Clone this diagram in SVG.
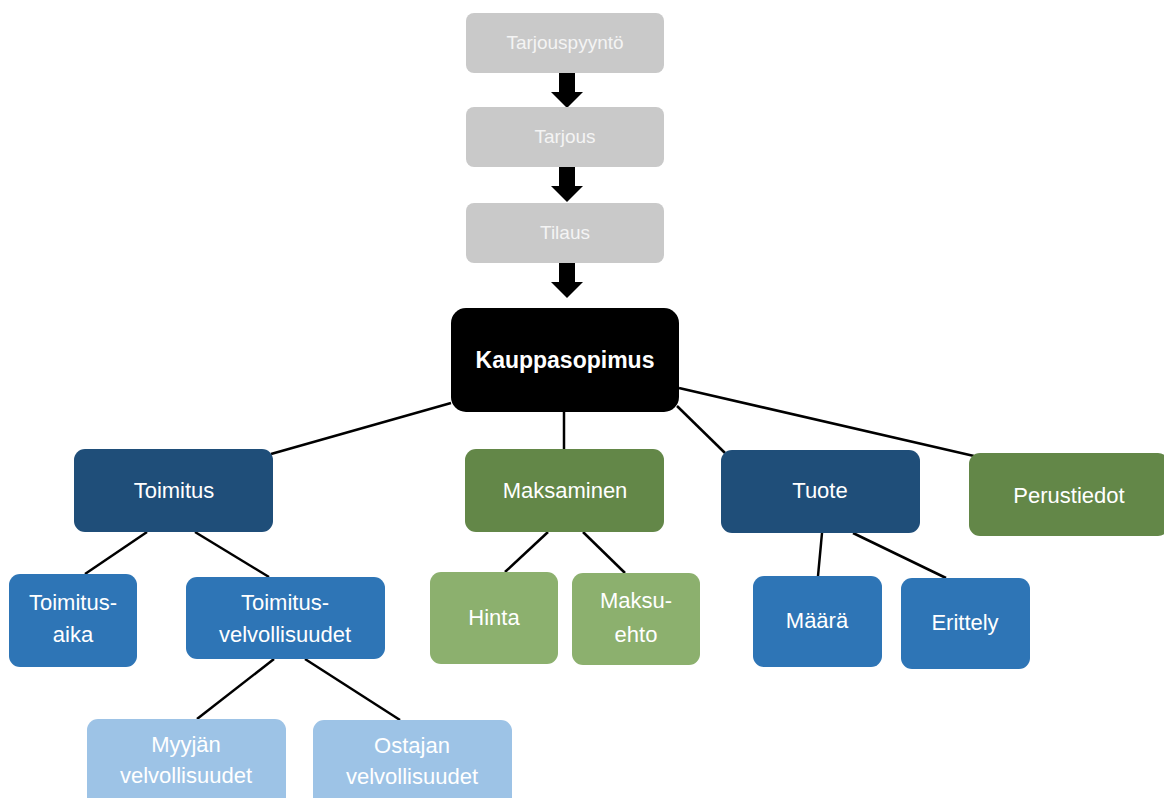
<svg xmlns="http://www.w3.org/2000/svg" width="1164" height="798" viewBox="0 0 1164 798">
<defs>
<style>
text{font-family:"Liberation Sans",Arial,sans-serif;fill:#fff;text-anchor:middle}
.g rect{fill:#C9C9C9}
.g text{font-size:19px;fill:#F4F4F4}
.n text{font-size:22px}
.dk rect{fill:#1F4E79}
.md rect{fill:#2E75B6}
.lt rect{fill:#9DC3E6}
.gd rect{fill:#638748}
.gl rect{fill:#8CB06E}
.conn line{stroke:#000;stroke-width:2.5}
.arr{fill:#000}
</style>
</defs>
<rect width="1164" height="798" fill="#fff"/>
<g class="conn">
<line x1="451" y1="403" x2="271" y2="454"/>
<line x1="564" y1="412" x2="564" y2="449"/>
<line x1="677" y1="406" x2="725" y2="453"/>
<line x1="679" y1="388" x2="974" y2="456"/>
<line x1="147" y1="532" x2="85" y2="574"/>
<line x1="195" y1="532" x2="269" y2="577"/>
<line x1="274" y1="659" x2="197" y2="719"/>
<line x1="305" y1="659" x2="400" y2="720"/>
<line x1="548" y1="532" x2="505" y2="572"/>
<line x1="583" y1="532" x2="625" y2="573"/>
<line x1="822" y1="533" x2="818" y2="576"/>
<line x1="853" y1="533" x2="946" y2="578"/>
<polygon class="arr" points="559,73 575,73 575,92 583,92 567,108 551,92 559,92"/>
<polygon class="arr" points="559,167 575,167 575,186 583,186 567,202 551,186 559,186"/>
<polygon class="arr" points="559,263 575,263 575,282 583,282 567,298 551,282 559,282"/>
</g>
<g id="tarjouspyynto" class="g"><rect x="466" y="13" width="198" height="60" rx="8"/><text x="565" y="49">Tarjouspyyntö</text></g>
<g id="tarjous" class="g"><rect x="466" y="107" width="198" height="60" rx="8"/><text x="565" y="143">Tarjous</text></g>
<g id="tilaus" class="g"><rect x="466" y="203" width="198" height="60" rx="8"/><text x="565" y="239">Tilaus</text></g>
<g id="kauppasopimus"><rect x="451" y="308" width="228" height="104" rx="15" fill="#000"/><text x="565" y="368" font-size="23" font-weight="bold">Kauppasopimus</text></g>
<g id="toimitus" class="n dk"><rect x="74" y="449" width="199" height="83" rx="11"/><text x="174" y="498">Toimitus</text></g>
<g id="maksaminen" class="n gd"><rect x="465" y="449" width="199" height="83" rx="11"/><text x="565" y="498">Maksaminen</text></g>
<g id="tuote" class="n dk"><rect x="721" y="450" width="199" height="83" rx="11"/><text x="820" y="498">Tuote</text></g>
<g id="perustiedot" class="n gd"><rect x="969" y="453" width="200" height="83" rx="11"/><text x="1069" y="503">Perustiedot</text></g>
<g id="toimitusaika" class="n md"><rect x="9" y="574" width="128" height="93" rx="11"/><text x="73" y="610">Toimitus-</text><text x="73" y="642">aika</text></g>
<g id="toimitusvelvollisuudet" class="n md"><rect x="186" y="577" width="199" height="82" rx="11"/><text x="285" y="610">Toimitus-</text><text x="285" y="642">velvollisuudet</text></g>
<g id="myyjan" class="n lt"><rect x="87" y="719" width="199" height="95" rx="11"/><text x="186" y="752">Myyjän</text><text x="186" y="783">velvollisuudet</text></g>
<g id="ostajan" class="n lt"><rect x="313" y="720" width="199" height="95" rx="11"/><text x="412" y="753">Ostajan</text><text x="412" y="784">velvollisuudet</text></g>
<g id="hinta" class="n gl"><rect x="430" y="572" width="128" height="92" rx="11"/><text x="494" y="625">Hinta</text></g>
<g id="maksuehto" class="n gl"><rect x="572" y="573" width="128" height="92" rx="11"/><text x="636" y="608">Maksu-</text><text x="636" y="642">ehto</text></g>
<g id="maara" class="n md"><rect x="753" y="576" width="129" height="91" rx="11"/><text x="817" y="628">Määrä</text></g>
<g id="erittely" class="n md"><rect x="901" y="578" width="129" height="91" rx="11"/><text x="965" y="630">Erittely</text></g>
</svg>
